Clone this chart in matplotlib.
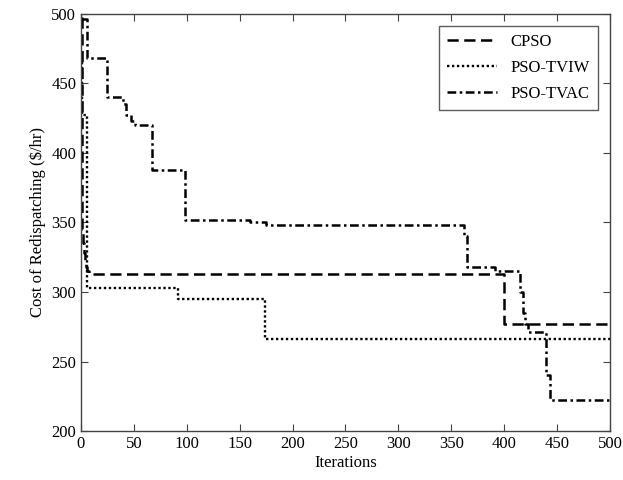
import matplotlib
matplotlib.use("Agg")
import matplotlib.pyplot as plt

plt.rcParams['font.family'] = ['Liberation Serif', 'DejaVu Serif']
plt.rcParams['mathtext.fontset'] = 'stix'

# CPSO (step breakpoints: iteration, cost)
cpso_x = [0, 1, 2, 3, 4, 5, 6, 8, 400, 500]
cpso_y = [497, 345, 335, 328, 322, 318, 315, 313, 277, 277]

# PSO-TVIW
tviw_x = [0, 1, 6, 92, 174, 500]
tviw_y = [472, 427, 303, 295, 266, 266]

# PSO-TVAC
tvac_x = [0, 6, 25, 40, 43, 47, 51, 67, 98, 160, 175, 362, 365, 391, 415, 418, 420, 423, 440, 443, 500]
tvac_y = [496, 468, 440, 435, 427, 423, 420, 388, 352, 350, 348, 340, 318, 315, 300, 285, 277, 271, 240, 222, 222]

labels = ["CPSO", "PSO-TVIW", "PSO-TVAC"]

fig = plt.figure(figsize=(6.23, 4.80), dpi=100)
ax = fig.add_axes([0.130, 0.102, 0.849, 0.869])

ax.plot(cpso_x, cpso_y, drawstyle='steps-post', color='black', lw=1.8,
        linestyle=(0, (4.5, 2.2)), label=labels[0])
ax.plot(tviw_x, tviw_y, drawstyle='steps-post', color='black', lw=1.7,
        linestyle=(0, (1, 1.1)), label=labels[1])
ax.plot(tvac_x, tvac_y, drawstyle='steps-post', color='black', lw=1.8,
        linestyle=(0, (3.5, 1.4, 1, 1.4)), label=labels[2])

ax.set_xlim(0, 500)
ax.set_ylim(200, 500)
ax.set_xticks(range(0, 501, 50))
ax.set_yticks(range(200, 501, 50))
ax.tick_params(direction='in', top=True, right=True, labelsize=12, length=5, color='#444444')
for s in ax.spines.values():
    s.set_color('#444444')
    s.set_linewidth(1.0)

ax.set_xlabel("Iterations", fontsize=12, labelpad=2)
ax.set_ylabel("Cost of Redispatching (\\$/hr)", fontsize=12)

leg = ax.legend(loc='upper right', fancybox=False, edgecolor='#333333', fontsize=12,
                handlelength=3.0, borderpad=0.5, labelspacing=0.6, borderaxespad=0.7)
leg.get_frame().set_linewidth(1.0)

fig.savefig("out.png", dpi=100)
